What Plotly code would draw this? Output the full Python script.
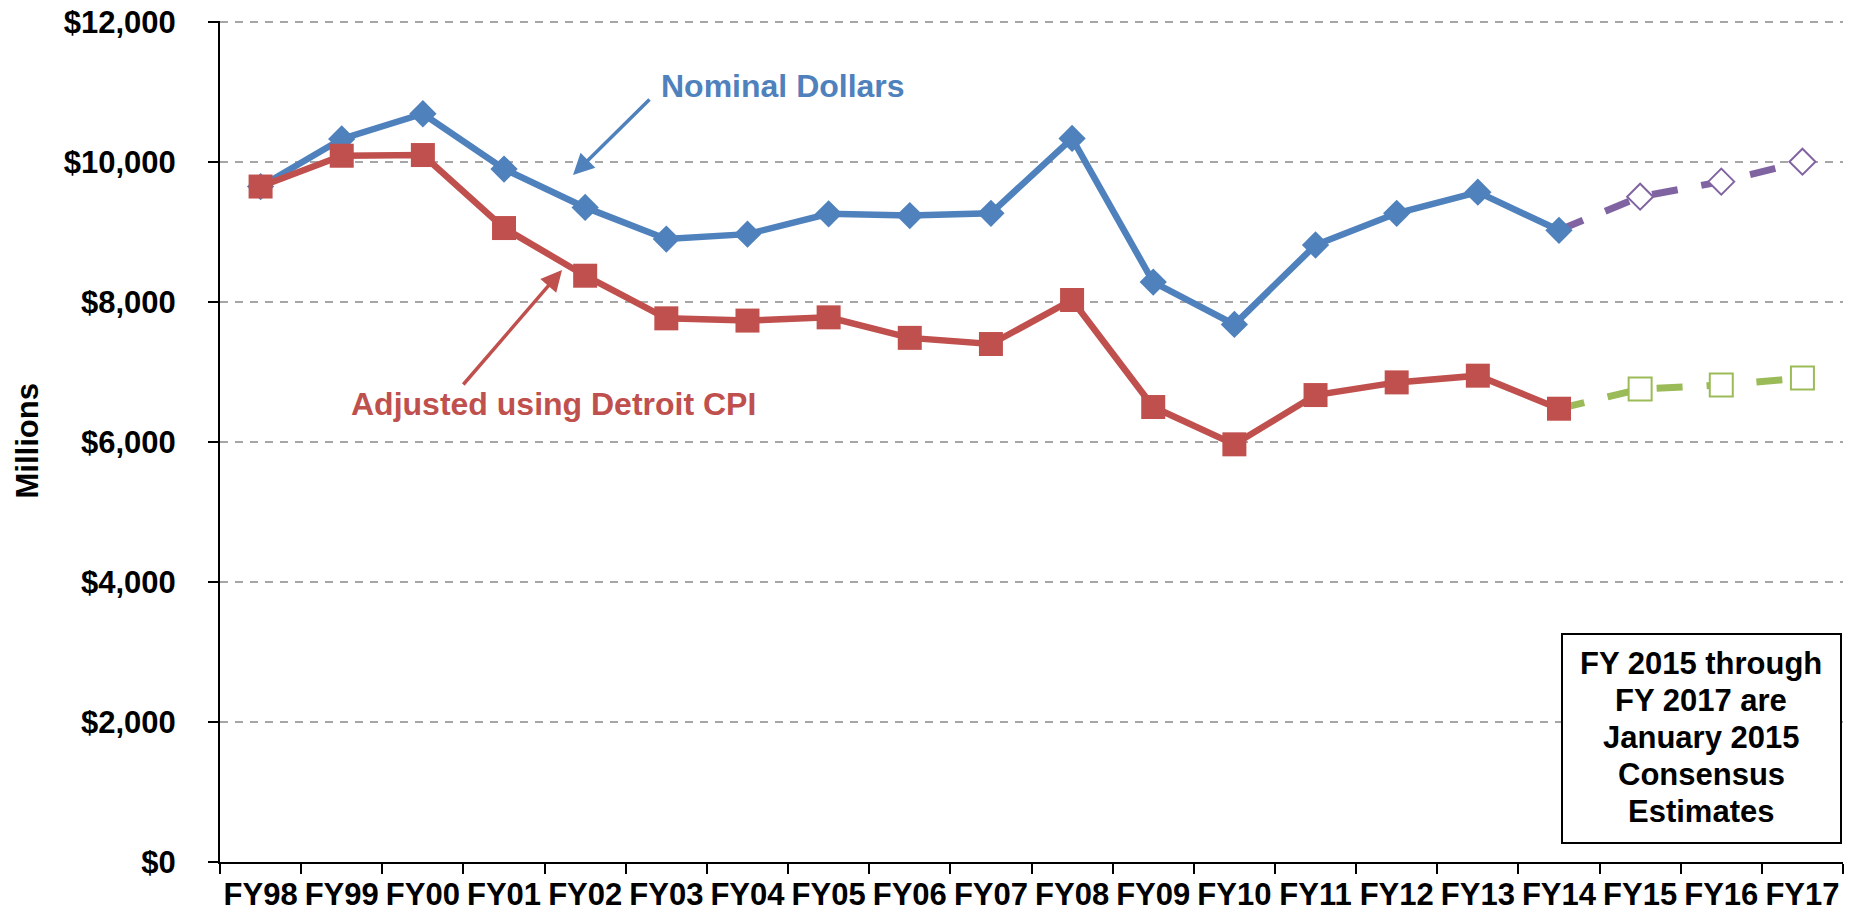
import plotly.graph_objects as go

# ---------------- data ----------------
years = ["FY98", "FY99", "FY00", "FY01", "FY02", "FY03", "FY04", "FY05", "FY06", "FY07",
         "FY08", "FY09", "FY10", "FY11", "FY12", "FY13", "FY14", "FY15", "FY16", "FY17"]
actual_years = years[:17]
proj_years = years[17:]

nominal = [9650, 10330, 10690, 9900, 9352, 8900, 8970, 9260, 9235, 9268,
           10338, 8285, 7680, 8815, 9268, 9570, 9025]
nominal_proj = [9505, 9720, 10005]

adjusted = [9650, 10090, 10100, 9057, 8376, 7767, 7735, 7781, 7488, 7400,
            8029, 6500, 5967, 6671, 6852, 6948, 6476]
adjusted_proj = [6757, 6814, 6914]

y_ticks = [0, 2000, 4000, 6000, 8000, 10000, 12000]
y_tick_labels = ["$0", "$2,000", "$4,000", "$6,000", "$8,000", "$10,000", "$12,000"]

note_lines = ["FY 2015 through", "FY 2017 are", "January 2015", "Consensus", "Estimates"]

BLUE = "#4F81BD"
RED = "#C0504D"
PURPLE = "#8064A2"
GREEN = "#9BBB59"
FONT = "Liberation Sans, Arial, sans-serif"

# plot area size in pixels (used to place annotations in paper units)
PW, PH = 1623, 841

fig = go.Figure()

# projection dashed lines (start at last actual point)
fig.add_trace(go.Scatter(
    x=[actual_years[-1]] + proj_years, y=[nominal[-1]] + nominal_proj,
    mode="lines", line=dict(color=PURPLE, width=7, dash="26px,24px"),
    hoverinfo="skip", showlegend=False))
fig.add_trace(go.Scatter(
    x=[actual_years[-1]] + proj_years, y=[adjusted[-1]] + adjusted_proj,
    mode="lines", line=dict(color=GREEN, width=7, dash="26px,24px"),
    hoverinfo="skip", showlegend=False))

# actual series
fig.add_trace(go.Scatter(
    x=actual_years, y=nominal, mode="lines+markers", name="Nominal Dollars",
    line=dict(color=BLUE, width=6.5),
    marker=dict(symbol="diamond", size=21, color=BLUE, line=dict(width=0)),
    showlegend=False))
fig.add_trace(go.Scatter(
    x=actual_years, y=adjusted, mode="lines+markers", name="Adjusted using Detroit CPI",
    line=dict(color=RED, width=6.5),
    marker=dict(symbol="square", size=24, color=RED, line=dict(width=0)),
    showlegend=False))

# projection markers
fig.add_trace(go.Scatter(
    x=proj_years, y=nominal_proj, mode="markers",
    marker=dict(symbol="diamond", size=20, color="white", line=dict(color=PURPLE, width=2)),
    showlegend=False))
fig.add_trace(go.Scatter(
    x=proj_years, y=adjusted_proj, mode="markers",
    marker=dict(symbol="square", size=23, color="white", line=dict(color=GREEN, width=2)),
    showlegend=False))

fig.update_layout(
    width=1856, height=915,
    margin=dict(l=220, r=13, t=21, b=53, autoexpand=False),
    paper_bgcolor="white", plot_bgcolor="white",
    font=dict(family=FONT, size=31, color="black", weight="bold"),
    showlegend=False,
)

fig.update_xaxes(
    type="category", categoryorder="array", categoryarray=years,
    range=[-0.5, len(years) - 0.5], tickangle=0, automargin=False,
    tickson="boundaries", ticks="outside", ticklen=10, tickwidth=2, tickcolor="black",
    showline=True, linecolor="black", linewidth=2,
    showgrid=False, zeroline=False, ticklabelstandoff=4,
    tickfont=dict(family=FONT, size=31, color="black", weight="bold"),
)
fig.update_yaxes(
    range=[0, 12015], tickvals=y_ticks, ticktext=y_tick_labels, automargin=False,
    ticklabeloverflow="allow",
    ticks="outside", ticklen=10, tickwidth=2, tickcolor="black",
    showline=True, linecolor="black", linewidth=2,
    showgrid=True, gridcolor="#A6A6A6", gridwidth=1.5, griddash="8px,7px",
    zeroline=False, ticklabelstandoff=26,
    tickfont=dict(family=FONT, size=31, color="black", weight="bold"),
)

# estimates note box (pixel positions relative to plot area -> paper units)
fig.add_shape(type="rect", xref="paper", yref="paper",
              x0=(1562 - 220) / PW, x1=(1841 - 220) / PW,
              y0=(862 - 843) / PH, y1=(862 - 634) / PH,
              line=dict(color="black", width=2), fillcolor="white", layer="above")

for i, line in enumerate(note_lines):
    fig.add_annotation(
        xref="paper", yref="paper", x=(1701 - 220) / PW, y=(862 - (663 + 37 * i)) / PH,
        xanchor="center", yanchor="middle", text=line, showarrow=False,
        font=dict(family=FONT, size=31, color="black", weight="bold"))

# y-axis title
fig.add_annotation(
    xref="paper", yref="paper", x=(27 - 220) / PW, y=0.5, xanchor="center", yanchor="middle",
    text="Millions", textangle=-90, showarrow=False,
    font=dict(family=FONT, size=31, color="black", weight="bold"))

# series labels
fig.add_annotation(
    xref="paper", yref="paper", x=(783 - 220) / PW, y=(862 - 86) / PH,
    xanchor="center", yanchor="middle",
    text="Nominal Dollars", showarrow=False,
    font=dict(family=FONT, size=32, color=BLUE, weight="bold"))
fig.add_annotation(
    xref="paper", yref="paper", x=(553 - 220) / PW, y=(862 - 404) / PH,
    xanchor="center", yanchor="middle",
    text="Adjusted using Detroit CPI", showarrow=False,
    font=dict(family=FONT, size=32, color=RED, weight="bold"))

# arrows
fig.add_annotation(
    xref="paper", yref="paper", x=(573 - 220) / PW, y=(862 - 175) / PH, ax=78, ay=-77,
    text="", showarrow=True, arrowhead=2, arrowsize=1.2, arrowwidth=3.5, arrowcolor=BLUE)
fig.add_annotation(
    xref="paper", yref="paper", x=(562 - 220) / PW, y=(862 - 270) / PH, ax=-100, ay=116,
    text="", showarrow=True, arrowhead=2, arrowsize=1.2, arrowwidth=3.5, arrowcolor=RED)

fig.write_html(
    "out.html",
    config={"displayModeBar": False},
    post_script="document.body.style.margin='0';document.body.style.overflow='hidden';",
)
